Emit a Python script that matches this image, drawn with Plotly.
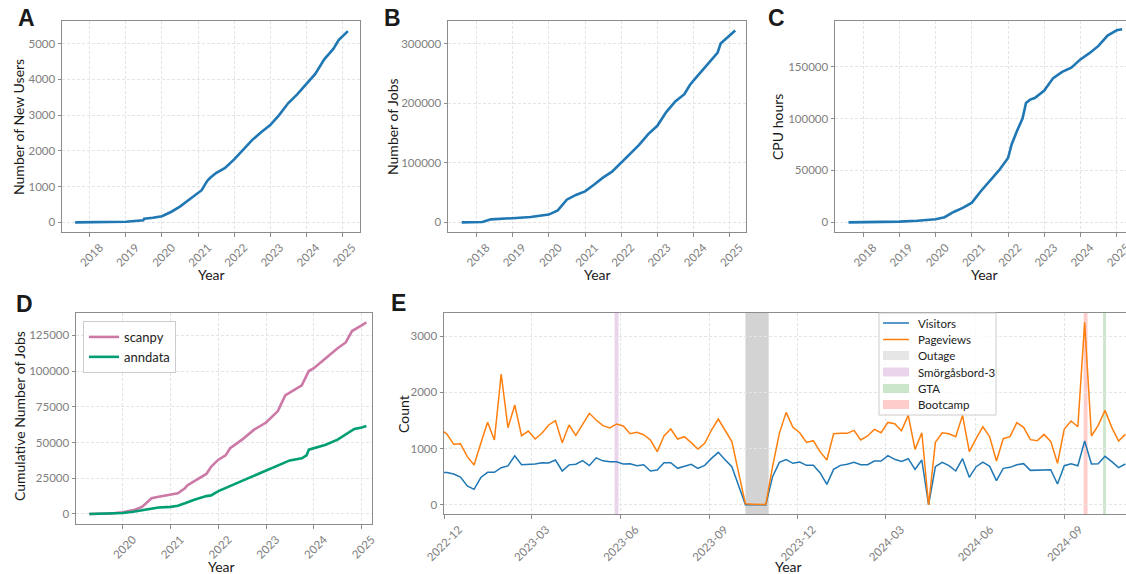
import plotly.graph_objects as go
import pandas as pd

W, H = 1126, 574

# ---------------- Panel A: new users ----------------
users_dates = ["2017-08-05", "2018-01-01", "2018-07-01", "2019-01-01", "2019-06-25", "2019-07-05",
               "2019-10-01", "2020-01-01", "2020-04-01", "2020-07-01", "2020-10-01", "2021-01-01",
               "2021-02-06", "2021-03-10", "2021-04-01", "2021-05-01", "2021-07-01", "2021-10-01",
               "2022-01-01", "2022-04-01", "2022-07-01", "2022-10-01", "2023-01-01", "2023-04-01",
               "2023-07-01", "2023-10-01", "2024-01-01", "2024-04-01", "2024-07-01", "2024-10-01",
               "2024-11-24", "2025-02-06", "2025-02-25"]
users_vals = [0, 0, 3, 15, 55, 100, 130, 170, 290, 440, 630, 840,
              900, 1050, 1150, 1240, 1380, 1520, 1760, 2030, 2300, 2520, 2720, 3000,
              3330, 3580, 3870, 4150, 4560, 4850, 5100, 5280, 5350]

# ---------------- Panel B: jobs ----------------
jobs_dates = ["2017-08-05", "2018-01-01", "2018-03-03", "2018-05-27", "2018-07-01", "2019-01-01",
              "2019-07-01", "2020-01-01", "2020-04-01", "2020-05-27", "2020-07-01", "2020-10-01",
              "2021-01-01", "2021-04-01", "2021-07-01", "2021-10-01", "2022-01-01", "2022-04-01",
              "2022-07-01", "2022-10-01", "2023-01-01", "2023-04-01", "2023-07-01", "2023-10-01",
              "2023-11-24", "2024-01-01", "2024-04-01", "2024-07-01", "2024-09-01", "2024-10-01",
              "2025-01-01", "2025-02-25"]
jobs_vals = [0, 0, 500, 5000, 5500, 7000, 9000, 13000, 20000, 30000, 38000, 46000,
             52000, 63000, 75000, 85000, 100000, 115000, 130000, 148000, 162000, 185000,
             203000, 215000, 230000, 238000, 255000, 272000, 285000, 300000, 313000, 322000]

# ---------------- Panel C: CPU hours ----------------
cpu_dates = ["2017-08-05", "2018-01-01", "2019-01-01", "2019-07-01", "2019-10-01", "2020-01-01",
             "2020-04-01", "2020-07-01", "2020-10-01", "2021-01-01", "2021-04-01", "2021-07-01",
             "2021-10-01", "2022-01-01", "2022-02-06", "2022-04-01", "2022-05-27", "2022-07-01",
             "2022-08-08", "2022-10-01", "2023-01-01", "2023-04-01", "2023-07-01", "2023-10-01",
             "2024-01-01", "2024-04-01", "2024-07-01", "2024-10-01", "2025-01-01", "2025-02-25"]
cpu_vals = [0, 100, 700, 1500, 2000, 3000, 5000, 10000, 14000, 19000, 30000, 40000,
            50000, 62000, 75000, 88000, 100000, 115000, 118000, 120000, 127000, 139000,
            145000, 149000, 157000, 163000, 170000, 180000, 185000, 186000]

# ---------------- Panel D: scanpy / anndata ----------------
scanpy_dates = ["2019-04-20", "2019-10-01", "2020-01-01", "2020-04-01", "2020-05-27", "2020-07-01",
                "2020-08-08", "2020-10-01", "2021-01-01", "2021-02-25", "2021-04-20", "2021-05-08",
                "2021-07-01", "2021-10-01", "2021-11-06", "2022-01-01", "2022-02-25", "2022-04-01",
                "2022-07-01", "2022-10-01", "2023-01-01", "2023-04-01", "2023-05-27", "2023-07-01",
                "2023-10-01", "2023-11-24", "2024-01-01", "2024-04-01", "2024-07-01", "2024-09-01",
                "2024-10-19", "2025-01-01", "2025-02-06"]
scanpy_vals = [0, 300, 1200, 3000, 5000, 8000, 11000, 12000, 13500, 14500, 18000, 20000,
               23000, 28000, 33000, 38000, 41000, 46000, 52000, 59000, 64000, 72000, 83000,
               85000, 90000, 100000, 102000, 109000, 116000, 120000, 128000, 132000, 134000]
anndata_dates = ["2019-04-20", "2019-10-01", "2020-01-01", "2020-04-01", "2020-07-01", "2020-08-08",
                 "2020-10-01", "2021-01-01", "2021-02-25", "2021-04-20", "2021-05-27", "2021-07-01",
                 "2021-10-01", "2021-11-06", "2022-01-01", "2022-04-01", "2022-07-01", "2022-10-01",
                 "2023-01-01", "2023-04-01", "2023-07-01", "2023-10-01", "2023-11-06", "2023-11-24",
                 "2024-01-01", "2024-04-01", "2024-07-01", "2024-10-01", "2024-11-06", "2025-01-01",
                 "2025-02-06"]
anndata_vals = [0, 200, 700, 1800, 3000, 4000, 4500, 5000, 5800, 7500, 9000, 10000,
                12500, 13000, 16000, 19500, 23000, 27000, 30500, 34000, 37500, 39000, 41000,
                45000, 46000, 48500, 52000, 57000, 59500, 60500, 61500]

# ---------------- Panel E: weekly web traffic ----------------
web_dates = pd.date_range("2022-11-27", periods=102, freq="7D")
visitors = [575, 575, 551, 497, 340, 278, 488, 580, 580, 663, 695, 873, 716, 716, 728, 751, 746,
            799, 604, 713, 725, 787, 701, 837, 784, 766, 766, 728, 734, 698, 716, 604, 621, 751,
            751, 651, 680, 722, 651, 704, 828, 935, 805, 680, 340, 5, 3, 2, 2, 503, 757, 805, 740,
            763, 704, 704, 574, 367, 633, 704, 722, 757, 716, 716, 781, 781, 876, 811, 775, 822,
            633, 799, 0, 680, 757, 698, 604, 822, 491, 680, 763, 686, 432, 651, 669, 716, 734,
            615, 621, 627, 627, 373, 698, 734, 698, 1136, 728, 734, 864, 769, 663, 728]
pageviews = [1345, 1261, 1078, 1089, 858, 710, 1095, 1468, 1154, 2327, 1373, 1776, 1231, 1314,
             1172, 1273, 1421, 1498, 1107, 1421, 1237, 1432, 1628, 1510, 1409, 1368, 1439, 1403,
             1267, 1290, 1249, 1154, 947, 1225, 1350, 1172, 1213, 1107, 995, 1095, 1332, 1527,
             1332, 1125, 570, 20, 15, 12, 10, 680, 1272, 1645, 1379, 1284, 1112, 1142, 947, 799,
             1266, 1272, 1272, 1325, 1154, 1225, 1343, 1284, 1467, 1444, 1320, 1592, 988, 1284,
             0, 1112, 1284, 1266, 1213, 1592, 947, 1177, 1390, 1213, 781, 1177, 1213, 1462, 1379,
             1160, 1142, 1254, 1130, 740, 1349, 1491, 1390, 3243, 1225, 1414, 1680, 1379, 1136,
             1254]
event_names = ["Outage", "Smörgåsbord-3", "GTA", "Bootcamp"]
event_starts = ["2023-10-08", "2023-05-26", "2024-10-11", "2024-09-21"]
event_ends = ["2023-11-01", "2023-05-30", "2024-10-14", "2024-09-25"]
event_colors = ["rgba(128,128,128,0.35)", "rgba(150,40,160,0.2)", "rgba(0,128,0,0.2)", "rgba(255,0,0,0.2)"]
event_legend_colors = ["rgba(128,128,128,0.2)", "rgba(150,40,160,0.2)", "rgba(0,128,0,0.2)", "rgba(255,0,0,0.2)"]

year_ticks = ["2018", "2019", "2020", "2021", "2022", "2023", "2024", "2025"]
d_year_ticks = ["2020", "2021", "2022", "2023", "2024", "2025"]
e_ticks = ["2022-12", "2023-03", "2023-06", "2023-09", "2023-12", "2024-03", "2024-06", "2024-09"]

BLUE = "#1f77b4"
ORANGE = "#ff7f0e"
PINK = "#cc79a7"
GREEN = "#009e73"
FONT = "Lato"
TICKC = "#808080"
AXC = "#8c8c8c"


def xd(a, b):
    return [a / W, min(b / W, 1.0)]


def yd(top, bottom):
    return [1 - bottom / H, 1 - top / H]


def px(x):
    return x / W


def py(y):
    return 1 - y / H


fig = go.Figure()

fig.add_trace(go.Scatter(x=users_dates, y=users_vals, mode="lines", line=dict(color=BLUE, width=2.6),
                         xaxis="x", yaxis="y", showlegend=False))
fig.add_trace(go.Scatter(x=jobs_dates, y=jobs_vals, mode="lines", line=dict(color=BLUE, width=2.6),
                         xaxis="x2", yaxis="y2", showlegend=False))
fig.add_trace(go.Scatter(x=cpu_dates, y=cpu_vals, mode="lines", line=dict(color=BLUE, width=2.6),
                         xaxis="x3", yaxis="y3", showlegend=False))
fig.add_trace(go.Scatter(x=scanpy_dates, y=scanpy_vals, mode="lines", name="scanpy",
                         line=dict(color=PINK, width=2.6), xaxis="x4", yaxis="y4", legend="legend"))
fig.add_trace(go.Scatter(x=anndata_dates, y=anndata_vals, mode="lines", name="anndata",
                         line=dict(color=GREEN, width=2.6), xaxis="x4", yaxis="y4", legend="legend"))
fig.add_trace(go.Scatter(x=web_dates, y=visitors, mode="lines", name="Visitors",
                         line=dict(color=BLUE, width=1.5), xaxis="x5", yaxis="y5", showlegend=False))
fig.add_trace(go.Scatter(x=web_dates, y=pageviews, mode="lines", name="Pageviews",
                         line=dict(color=ORANGE, width=1.5), xaxis="x5", yaxis="y5", showlegend=False))

shapes = []
for name, s, e, c in zip(event_names, event_starts, event_ends, event_colors):
    shapes.append(dict(type="rect", xref="x5", yref="y5 domain", x0=s, x1=e, y0=0, y1=1,
                       fillcolor=c, line=dict(width=0), layer="below"))

# ---- legend box for panel E (matplotlib-style) ----
ann = []
shapes.append(dict(type="rect", xref="paper", yref="paper", x0=px(879), x1=px(996), y0=py(415), y1=py(313),
                   fillcolor="rgba(255,255,255,0.8)", line=dict(color="#cccccc", width=1), layer="above"))
leg_rows = [323, 339.5, 355.5, 372, 388.5, 404.5]
leg_labels = ["Visitors", "Pageviews"] + event_names
for i, (lab, yy) in enumerate(zip(leg_labels, leg_rows)):
    if i < 2:
        shapes.append(dict(type="line", xref="paper", yref="paper", x0=px(883), x1=px(909), y0=py(yy), y1=py(yy),
                           line=dict(color=[BLUE, ORANGE][i], width=1.5), layer="above"))
    else:
        shapes.append(dict(type="rect", xref="paper", yref="paper", x0=px(883), x1=px(909),
                           y0=py(yy + 4.5), y1=py(yy - 4.5), fillcolor=event_legend_colors[i - 2],
                           line=dict(width=0), layer="above"))
    ann.append(dict(text=lab, x=px(916), y=py(yy), xref="paper", yref="paper", showarrow=False,
                    xanchor="left", yanchor="middle", font=dict(family=FONT, size=11.5, color="#222")))

common_axis = dict(showline=True, mirror=True, linecolor=AXC, linewidth=1,
                   showgrid=True, gridcolor="#e4e4e4", griddash="3px,2px", gridwidth=1,
                   zeroline=False, ticks="outside", ticklen=3.5, tickwidth=1, tickcolor=AXC,
                   automargin=False, ticklabeloverflow="allow",
                   tickfont=dict(family=FONT, size=11.5, color=TICKC))


def xaxis(dom, rng, tickvals, ticktext, anchor, shift):
    d = dict(common_axis)
    d.update(domain=dom, range=rng, type="date", tickvals=tickvals, ticktext=ticktext,
             tickangle=-45, anchor=anchor, ticklabelshift=shift)
    return d


def yaxis(dom, rng, tickvals, anchor):
    d = dict(common_axis)
    d.update(domain=dom, range=rng, tickvals=tickvals, ticktext=[str(v) for v in tickvals],
             anchor=anchor)
    return d


yr_vals = [y + "-01-01" for y in year_ticks]
dyr_vals = [y + "-01-01" for y in d_year_ticks]
e_vals = [t + "-01" for t in e_ticks]

layout = dict(
    width=W, height=H, margin=dict(l=0, r=0, t=0, b=0, autoexpand=False),
    paper_bgcolor="white", plot_bgcolor="white",
    font=dict(family=FONT, color="#222"),
    xaxis=xaxis(xd(62, 360), ["2017-03-25", "2025-06-28"], yr_vals, year_ticks, "y", 10),
    yaxis=yaxis(yd(21, 232), [-270, 5632], [0, 1000, 2000, 3000, 4000, 5000], "x"),
    xaxis2=xaxis(xd(448, 746), ["2017-03-20", "2025-06-14"], yr_vals, year_ticks, "y2", 10),
    yaxis2=yaxis(yd(21, 232), [-16200, 337900], [0, 100000, 200000, 300000], "x2"),
    xaxis3=xaxis(xd(835, 1126), ["2017-03-22", "2025-04-05"], yr_vals, year_ticks, "y3", 10),
    yaxis3=yaxis(yd(21, 232), [-9300, 194000], [0, 50000, 100000, 150000], "x3"),
    xaxis4=xaxis(xd(76, 372), ["2019-01-08", "2025-03-21"], dyr_vals, d_year_ticks, "y4", 10),
    yaxis4=yaxis(yd(313, 524), [-7000, 140600], [0, 25000, 50000, 75000, 100000, 125000], "x4"),
    xaxis5=xaxis(xd(444, 1126), ["2022-12-01", "2024-11-03T16:00"], e_vals, e_ticks, "y5", 15),
    yaxis5=yaxis(yd(313, 514), [-160, 3410], [0, 1000, 2000, 3000], "x5"),
    legend=dict(x=83 / W, y=1 - 321 / H, xanchor="left", yanchor="top",
                bgcolor="rgba(255,255,255,0.85)", bordercolor="#cccccc", borderwidth=1,
                font=dict(family=FONT, size=13, color="#222")),
    shapes=shapes,
)
fig.update_layout(**layout)

# panel letters and axis titles (pixel positions)
for letter, x, y in [("A", 26, 18), ("B", 392, 18), ("C", 776, 18), ("D", 24, 304), ("E", 398, 303)]:
    ann.append(dict(text="<b>%s</b>" % letter, x=px(x), y=py(y), xref="paper", yref="paper",
                    showarrow=False, xanchor="center", yanchor="middle",
                    font=dict(family="Liberation Sans", size=23, color="#1a1a1a")))
titles_y = [("Number of New Users", 19, 127), ("Number of Jobs", 393, 127), ("CPU hours", 778, 127),
            ("Cumulative Number of Jobs", 19, 416), ("Count", 403, 414)]
for t, x, y in titles_y:
    ann.append(dict(text=t, x=px(x), y=py(y), xref="paper", yref="paper", showarrow=False,
                    textangle=-90, xanchor="center", yanchor="middle",
                    font=dict(family=FONT, size=14, color="#1a1a1a")))
titles_x = [("Year", 211, 274), ("Year", 597, 274), ("Year", 984, 274), ("Year", 221, 566), ("Year", 788, 566)]
for t, x, y in titles_x:
    ann.append(dict(text=t, x=px(x), y=py(y), xref="paper", yref="paper", showarrow=False,
                    xanchor="center", yanchor="middle",
                    font=dict(family=FONT, size=14, color="#1a1a1a")))
fig.update_layout(annotations=ann)

fig.write_html("out.html", config={"displayModeBar": False},
               post_script="document.body.style.margin='0px';document.body.style.overflow='hidden';")
